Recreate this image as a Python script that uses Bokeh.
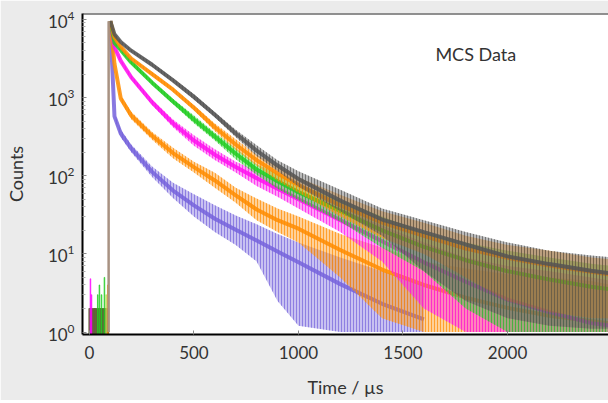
from bokeh.plotting import figure
from bokeh.models import Range1d, Label, FixedTicker, Span
from bokeh.embed import file_html
from bokeh.resources import INLINE

# ---- data ----
t = [100, 120, 150, 200, 300, 400, 500, 600, 700, 800, 900, 1000, 1200, 1400, 1600, 1800, 2000, 2200, 2400, 2500]

gray_mid = [9500, 6460, 5130, 3980, 2630, 1660, 1020, 603, 347, 209, 135, 91, 48, 27.5, 19, 13.2, 9.3, 7.4, 6.1, 5.6]
gray_lo = [9200, 6200, 4930, 3830, 2480, 1570, 945, 558, 310, 179, 115, 73, 35, 17, 6, 2.5, 1.5, 1.2, 1.1, 1.1]
gray_hi = [9800, 6720, 5340, 4140, 2790, 1760, 1100, 650, 388, 245, 158, 114, 66, 38, 27, 19, 14, 11, 9.5, 9]

orange1_mid = [9500, 5890, 4470, 3160, 2000, 1260, 741, 417, 251, 158, 107, 76, 41.7, 25.1, 17, 11.7, 8.9, 7.1, 5.9, 5.4]
orange1_lo = [9200, 5660, 4300, 3040, 1890, 1190, 686, 372, 215, 135, 86, 61, 30, 16, 10, 5, 2.5, 1.8, 1.5, 1.5]
orange1_hi = [9800, 6130, 4650, 3290, 2120, 1340, 800, 467, 293, 185, 134, 95, 57, 35, 25, 17, 13, 11, 9, 8.5]

green_mid = [9500, 5010, 4070, 2820, 1550, 891, 525, 316, 191, 120, 85, 61.7, 35.5, 20, 12.3, 8.3, 6.0, 4.7, 3.8, 3.5]
green_lo = [9200, 4820, 3910, 2660, 1460, 825, 469, 282, 163, 103, 68, 49, 26, 12, 6, 2, 1, 1, 1, 1]
green_hi = [9800, 5210, 4230, 2990, 1640, 962, 588, 354, 224, 140, 106, 77, 49, 30, 19, 14, 11, 9, 7.5, 7]

magenta_mid = [9500, 4430, 2950, 1820, 871, 468, 282, 186, 129, 93, 68, 50, 27, 14.5, 7.8, 4.4, 2.6, 1.8, 1.3, 1.2]
magenta_lo = [9200, 4260, 2830, 1720, 806, 418, 241, 159, 110, 74, 54, 38, 19, 8, 2, 1, 1, 1, 1, 1]
magenta_hi = [9800, 4610, 3070, 1930, 940, 524, 330, 218, 151, 116, 85, 64, 38, 23, 14, 9, 7, 6, 5, 4.5]

orange2_mid = [9000, 2690, 977, 589, 324, 195, 129, 87, 56, 37, 27, 21, 11.2, 6.3, 4.0, 2.75, 2.04, 1.62, 1.38, 1.29]
orange2_lo = [8700, 2540, 905, 526, 289, 167, 110, 70, 45, 27, 19, 14, 5, 1.5, 1, 1, 1, 1, 1, 1]
orange2_hi = [9300, 2850, 1055, 660, 363, 228, 151, 109, 70, 51, 38, 30, 18, 12, 8, 6.5, 5.5, 5, 4.5, 4]

t_purple = [100, 120, 150, 200, 300, 400, 500, 600, 700, 800, 900, 1000, 1200, 1400, 1600]
purple_mid = [9000, 575, 347, 224, 112, 64.6, 41.7, 28.2, 20.4, 14.8, 10.7, 7.8, 4.1, 2.3, 1.45]
purple_lo = [8700, 532, 310, 200, 96, 52, 30, 19, 13, 8, 2.5, 1.2, 1, 1, 1]
purple_hi = [9300, 621, 389, 251, 131, 81, 58, 42, 31, 24, 18, 14, 9, 6, 4]

# rising edge (instrument response)
rise_t = 92
rise_lo, rise_hi = 1, 9500

# pre-pulse background counts
pre_t = [0, 6, 12, 18, 24, 30, 36, 42, 48, 54, 60, 66, 72, 78, 84, 90]
pre_base = [2, 2, 2, 2, 2, 2, 2, 2, 2, 2, 2, 2, 2, 2, 2, 2]
pre_spike_t = [5, 10, 40, 48, 58, 72, 80, 88]
pre_spike_c = [4.8, 3, 3, 4, 3, 5, 3, 4]
pre_spike_col = ["#ff00ff", "#ff00ff", "#22cc22", "#22cc22", "#22cc22", "#22cc22", "#bbdd55", "#ff8c00"]

x_ticks = [0, 500, 1000, 1500, 2000, 2500]
y_ticks = [1, 10, 100, 1000, 10000]
y_minor = [2, 3, 4, 5, 6, 7, 8, 9, 20, 30, 40, 50, 60, 70, 80, 90,
           200, 300, 400, 500, 600, 700, 800, 900,
           2000, 3000, 4000, 5000, 6000, 7000, 8000, 9000]

series = [
    (t_purple, purple_mid, purple_lo, purple_hi, "#7563dc"),
    (t, orange2_mid, orange2_lo, orange2_hi, "#ff8c00"),
    (t, magenta_mid, magenta_lo, magenta_hi, "#ff11ee"),
    (t, green_mid, green_lo, green_hi, "#22cc22"),
    (t, orange1_mid, orange1_lo, orange1_hi, "#ff8c00"),
    (t, gray_mid, gray_lo, gray_hi, "#555555"),
]

FONT = "Lato"
TXT = "#333333"
X0, X1 = -33, 2483
Y0, Y1 = 0.93, 11900

p = figure(width=608, height=400, y_axis_type="log",
           x_range=Range1d(X0, X1), y_range=Range1d(Y0, Y1),
           output_backend="svg", toolbar_location=None,
           min_border_left=82, min_border_right=0, min_border_top=13, min_border_bottom=60)
p.background_fill_color = "white"
p.border_fill_color = "#ebebeb"
p.outline_line_color = None
p.grid.visible = False

# pre-pulse background
p.vbar(x=pre_t, top=pre_base, bottom=0.5, width=5, color="#5a5a30", alpha=0.8)
p.vbar(x=pre_spike_t, top=pre_spike_c, bottom=0.5, width=3, color=pre_spike_col, alpha=0.7)

for xs, mid, lo, hi, col in series:
    p.varea(x=xs, y1=lo, y2=hi, fill_color=col, fill_alpha=0.4,
            hatch_pattern="vertical_line", hatch_color=col, hatch_alpha=0.7,
            hatch_scale=3, hatch_weight=1)
    p.line(xs, mid, line_color=col, line_width=4, line_alpha=0.85)

p.segment(x0=[rise_t], y0=[rise_lo], x1=[rise_t], y1=[rise_hi], line_color="#a89282", line_width=2.5)

# top frame edge
p.add_layout(Span(location=Y1, dimension="width", line_color="#222222", line_width=2))

# axes styling
xa = p.xaxis[0]
xa.ticker = FixedTicker(ticks=x_ticks)
xa.axis_label = "Time / µs"
ya = p.yaxis[0]
ya.ticker = FixedTicker(ticks=y_ticks, minor_ticks=y_minor)
ya.axis_label = "Counts"
for ax in (xa, ya):
    ax.axis_line_color = "black"
    ax.axis_line_width = 2
    ax.major_tick_in = 4
    ax.major_tick_out = 0
    ax.minor_tick_in = 3
    ax.minor_tick_out = 0
    ax.major_tick_line_color = "#888888"
    ax.minor_tick_line_color = "#aaaaaa"
    ax.major_label_text_font = FONT
    ax.major_label_text_font_size = "17px"
    ax.major_label_text_color = TXT
    ax.axis_label_text_font = FONT
    ax.axis_label_text_font_size = "18px"
    ax.axis_label_text_font_style = "normal"
    ax.axis_label_text_color = TXT
xa.minor_tick_line_color = None
xa.major_label_standoff = 11
xa.axis_label_standoff = 14
ya.major_label_standoff = 8
ya.axis_label_standoff = 18

p.add_layout(Label(x=1655, y=3615, text="MCS Data", text_font=FONT, text_font_size="18px",
                   text_color=TXT, text_baseline="middle", text_align="left"))

open("out.html", "w").write(file_html(p, INLINE))
